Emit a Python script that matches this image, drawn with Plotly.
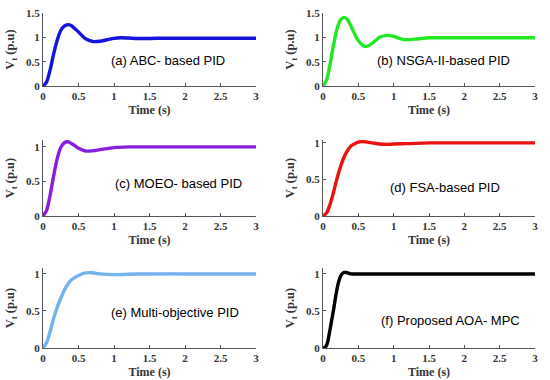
import plotly.graph_objects as go

# ---- data ----
t_a = [0, 0.05, 0.1, 0.15, 0.2, 0.25, 0.3, 0.35, 0.4, 0.5, 0.6, 0.7, 0.8, 0.9, 1.0, 1.1, 1.2, 1.4, 1.6, 2.0, 2.5, 3.0]
v_a = [0, 0.08, 0.33, 0.66, 0.94, 1.14, 1.23, 1.26, 1.24, 1.11, 0.97, 0.915, 0.92, 0.95, 0.98, 0.99, 0.985, 0.975, 0.98, 0.98, 0.98, 0.98]

t_b = [0, 0.05, 0.1, 0.15, 0.2, 0.25, 0.3, 0.35, 0.4, 0.5, 0.6, 0.7, 0.8, 0.9, 1.0, 1.1, 1.2, 1.35, 1.5, 2.0, 3.0]
v_b = [0, 0.12, 0.45, 0.85, 1.18, 1.36, 1.41, 1.36, 1.22, 0.93, 0.81, 0.88, 1.0, 1.04, 1.02, 0.97, 0.95, 0.97, 0.99, 0.99, 0.99]

t_c = [0, 0.05, 0.1, 0.15, 0.2, 0.25, 0.3, 0.35, 0.4, 0.5, 0.6, 0.7, 0.8, 1.0, 1.2, 1.5, 2.0, 3.0]
v_c = [0, 0.08, 0.3, 0.58, 0.83, 0.99, 1.06, 1.075, 1.05, 0.98, 0.94, 0.945, 0.96, 0.99, 1.0, 1.0, 1.0, 1.0]

t_d = [0, 0.05, 0.1, 0.15, 0.2, 0.25, 0.3, 0.35, 0.4, 0.45, 0.5, 0.55, 0.6, 0.7, 0.8, 0.9, 1.0, 1.2, 1.5, 2.0, 3.0]
v_d = [0, 0.04, 0.16, 0.33, 0.52, 0.68, 0.81, 0.9, 0.96, 0.99, 1.01, 1.02, 1.015, 1.0, 0.985, 0.98, 0.985, 0.99, 1.0, 1.0, 1.0]

t_e = [0, 0.05, 0.1, 0.15, 0.2, 0.25, 0.3, 0.35, 0.4, 0.5, 0.6, 0.7, 0.8, 1.0, 1.2, 1.5, 2.0, 3.0]
v_e = [0, 0.07, 0.22, 0.4, 0.55, 0.67, 0.78, 0.86, 0.92, 0.98, 1.015, 1.015, 1.0, 0.99, 0.995, 1.0, 1.0, 1.0]

t_f = [0, 0.03, 0.06, 0.09, 0.12, 0.15, 0.18, 0.21, 0.24, 0.27, 0.3, 0.35, 0.4, 0.5, 1.0, 2.0, 3.0]
v_f = [0, 0.01, 0.06, 0.2, 0.36, 0.52, 0.7, 0.85, 0.95, 1.0, 1.02, 1.015, 1.0, 1.0, 1.0, 1.0, 1.0]

labels = ["(a) ABC- based PID", "(b) NSGA-II-based PID", "(c) MOEO- based PID",
          "(d) FSA-based PID", "(e) Multi-objective PID", "(f) Proposed AOA- MPC"]
colors = ["#1414dc", "#22e822", "#8a1ee0", "#ee1111", "#72b2ee", "#000000"]
series = [(t_a, v_a), (t_b, v_b), (t_c, v_c), (t_d, v_d), (t_e, v_e), (t_f, v_f)]

x_ticks = [0, 0.5, 1, 1.5, 2, 2.5, 3]
y_ticks_top = [0, 0.5, 1, 1.5]
y_ticks_other = [0, 0.5, 1]

W, H = 550, 380
# pixel layout: (left, right, top, bottom) and y range
panels = [
    (43, 256, 13, 86, [0, 1.5], y_ticks_top),
    (323, 535, 13, 86, [0, 1.5], y_ticks_top),
    (43, 256, 140, 216, [0, 1.10], y_ticks_other),
    (323, 535, 140, 216, [0, 1.04], y_ticks_other),
    (43, 256, 268, 348, [0, 1.08], y_ticks_other),
    (323, 535, 268, 348, [0, 1.08], y_ticks_other),
]
text_pos = [(168, 61), (443, 61), (178, 184), (445, 187), (175, 312), (450, 320)]

fig = go.Figure()
serif = "Liberation Serif"
layout = dict(width=W, height=H, margin=dict(l=0, r=0, t=0, b=0),
              paper_bgcolor="white", plot_bgcolor="white", showlegend=False)
annotations = []
for i, ((l, r, tp, bt, yr, yt), (t, v), col, lab) in enumerate(zip(panels, series, colors, labels)):
    k = "" if i == 0 else str(i + 1)
    fig.add_trace(go.Scatter(x=t, y=v, mode="lines", line=dict(color=col, width=3.4, shape="spline", smoothing=0.8),
                             xaxis="x" + k, yaxis="y" + k, hoverinfo="skip"))
    axstyle = dict(showline=True, linecolor="#555555", linewidth=1, ticks="inside", ticklen=3,
                   tickcolor="#555555", showgrid=False, zeroline=False, automargin=False,
                   tickfont=dict(family=serif, size=11, color="#333333"))
    layout["xaxis" + k] = dict(domain=[l / W, r / W], range=[0, 3], tickvals=x_ticks,
                               ticktext=[f"<b>{x:g}</b>" for x in x_ticks], anchor="y" + k,
                               title=dict(text="<b>Time (s)</b>", font=dict(family=serif, size=12, color="#333333"), standoff=4),
                               **axstyle)
    layout["yaxis" + k] = dict(domain=[1 - bt / H, 1 - tp / H], range=yr, tickvals=yt,
                               ticktext=[f"<b>{y:g}</b>" for y in yt], anchor="x" + k,
                               title=dict(text="<b>V<sub>t</sub> (p.u)</b>", font=dict(family=serif, size=12.5, color="#333333"), standoff=8),
                               **axstyle)
    tx, ty = text_pos[i]
    annotations.append(dict(text=lab, x=tx / W, y=1 - ty / H, xref="paper", yref="paper",
                            showarrow=False, font=dict(family="Liberation Sans", size=13, color="black"),
                            xanchor="center", yanchor="middle"))
layout["annotations"] = annotations
fig.update_layout(**layout)
fig.write_html("out.html", config={"displayModeBar": False},
               post_script="document.body.style.margin='0px';document.body.style.overflow='hidden';")
